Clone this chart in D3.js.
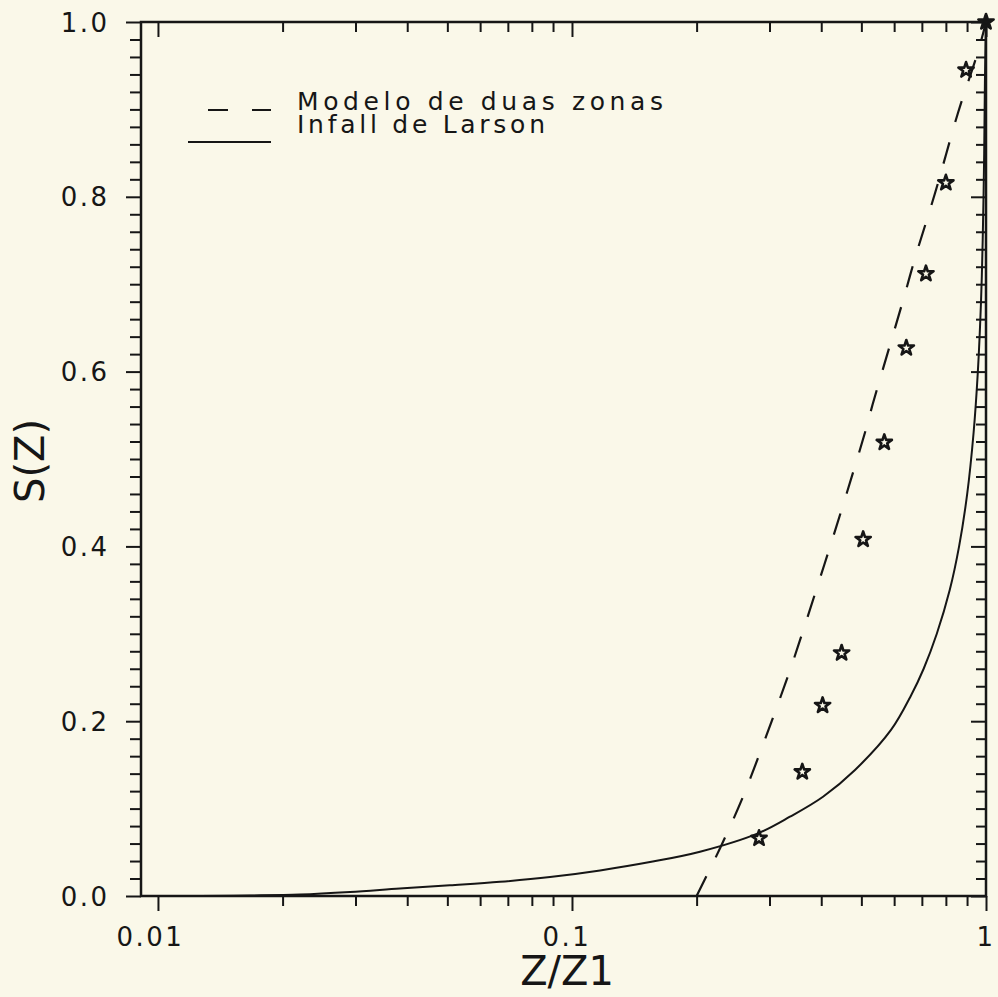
<!DOCTYPE html>
<html><head><meta charset="utf-8">
<script src="https://cdn.jsdelivr.net/npm/d3@7"></script>
<style>html,body{margin:0;padding:0;background:#faf8e9;} svg{display:block}</style>
</head><body><svg id="c" width="998" height="997"></svg>
<script>
// ---- data ----
const larsonZ = [0.0091, 0.0127, 0.0167, 0.0220, 0.0291, 0.0384, 0.0507, 0.0670, 0.0885, 0.1169, 0.1543, 0.2038, 0.2813, 0.3361, 0.4040, 0.4826, 0.5896, 0.6599, 0.7070, 0.7606, 0.8173, 0.8610, 0.9007, 0.9333, 0.9557, 0.9726, 0.9818, 0.9900, 0.9939, 1.0];
const larsonS = [0.0, 0.0001, 0.0006, 0.0016, 0.0045, 0.0085, 0.0122, 0.0162, 0.0217, 0.0293, 0.0388, 0.0507, 0.0717, 0.0907, 0.1136, 0.1442, 0.19, 0.23, 0.26, 0.30, 0.35, 0.40, 0.46, 0.53, 0.60, 0.68, 0.75, 0.85, 0.93, 1.0];
const twoZoneZ = [0.200, 0.228, 0.257, 0.282, 0.332, 0.359, 0.448, 0.515, 0.532, 0.631, 0.674, 0.753, 0.857, 0.958, 1.0];
const twoZoneS = [0.0, 0.055, 0.110, 0.159, 0.251, 0.299, 0.442, 0.537, 0.562, 0.682, 0.73, 0.804, 0.897, 0.967, 1.0];
const starZ = [0.283, 0.360, 0.403, 0.448, 0.505, 0.568, 0.642, 0.716, 0.800, 0.895, 1.0];
const starS = [0.066, 0.142, 0.218, 0.278, 0.408, 0.519, 0.627, 0.712, 0.816, 0.945, 1.0];
const yTickValues = [0, 0.2, 0.4, 0.6, 0.8, 1.0];
const yTickLabels = ["0.0", "0.2", "0.4", "0.6", "0.8", "1.0"];
const xTickValues = [0.01, 0.1, 1];
const xTickLabels = ["0.01", "0.1", "1"];
const legendLabels = ["Modelo de duas zonas", "Infall de Larson"];
const xTitle = "Z/Z1";
const yTitle = "S(Z)";

// ---- drawing ----
const W = 998, H = 997;
const svg = d3.select("#c");
const bg = "#faf8e9", ink = "#161616";
const font = "'DejaVu Sans', 'Liberation Sans', sans-serif";
svg.append("rect").attr("width", W).attr("height", H).attr("fill", bg);

const x = d3.scaleLog().domain([0.0091, 1]).range([141, 986]);
const y = d3.scaleLinear().domain([0, 1]).range([896, 22]);

const smoothLine = d3.line().x(d => x(d[0])).y(d => y(d[1])).curve(d3.curveCatmullRom.alpha(0.5));

svg.append("path").datum(larsonZ.map((z, i) => [z, larsonS[i]]))
  .attr("d", smoothLine).attr("fill", "none").attr("stroke", ink).attr("stroke-width", 2);

svg.append("path").datum(twoZoneZ.map((z, i) => [z, twoZoneS[i]]))
  .attr("d", smoothLine).attr("fill", "none").attr("stroke", ink).attr("stroke-width", 2.2)
  .attr("stroke-dasharray", "22,21");

// axes ticks
const xMinor = x.ticks().filter(v => !xTickValues.some(t => Math.abs(t - v) < 1e-9));
const yMinor = d3.range(0, 51).map(i => i / 50).filter(v => Math.abs(v * 5 - Math.round(v * 5)) > 1e-6);

function addAxis(axis, tx, ty, ticks, size) {
  svg.append("g").attr("transform", `translate(${tx},${ty})`)
    .call(axis.tickValues(ticks).tickSizeInner(size).tickSizeOuter(0).tickFormat(""))
    .call(g => g.select(".domain").remove())
    .selectAll("line").attr("stroke", ink).attr("stroke-width", 2);
}
addAxis(d3.axisBottom(x), 0, 896, xTickValues, 15);
addAxis(d3.axisBottom(x), 0, 896, xMinor, 10);
addAxis(d3.axisTop(x), 0, 22, xTickValues, -15);
addAxis(d3.axisTop(x), 0, 22, xMinor, -10);
addAxis(d3.axisLeft(y), 141, 0, yTickValues, 15);
addAxis(d3.axisLeft(y), 141, 0, yMinor, 11);
addAxis(d3.axisRight(y), 986, 0, yTickValues, -15);
addAxis(d3.axisRight(y), 986, 0, yMinor, -10);

svg.append("rect").attr("x", x.range()[0]).attr("y", y.range()[1])
  .attr("width", x.range()[1] - x.range()[0]).attr("height", y.range()[0] - y.range()[1])
  .attr("fill", "none").attr("stroke", ink).attr("stroke-width", 2.5);

// stars
const star = d3.symbol().type(d3.symbolStar).size(72);
svg.append("g").selectAll("path").data(starZ.map((z, i) => [z, starS[i]]))
  .join("path")
  .attr("transform", d => `translate(${x(d[0])},${y(d[1])})`)
  .attr("d", star)
  .attr("fill", d => d[0] >= 1 ? ink : bg)
  .attr("stroke", ink).attr("stroke-width", 2.6).attr("stroke-linejoin", "round");

// tick labels
svg.append("g").selectAll("text").data(yTickValues).join("text")
  .attr("x", 109.5).attr("y", d => y(d) + 9.5)
  .attr("text-anchor", "end").attr("font-family", font).attr("font-size", 26)
  .attr("letter-spacing", 2.5).attr("fill", ink)
  .text((d, i) => yTickLabels[i]);

svg.append("g").selectAll("text").data(xTickValues).join("text")
  .attr("x", (d, i) => x(d) - (xTickLabels[i].length - 1) * 2.5).attr("y", 946)
  .attr("text-anchor", "middle").attr("font-family", font).attr("font-size", 26)
  .attr("letter-spacing", 2.5).attr("fill", ink)
  .text((d, i) => xTickLabels[i]);

// titles
svg.append("text").attr("x", 567).attr("y", 985).attr("text-anchor", "middle")
  .attr("font-family", font).attr("font-size", 40).attr("fill", ink).text(xTitle);
svg.append("text").attr("transform", "translate(44,461) rotate(-90)").attr("text-anchor", "middle")
  .attr("font-family", font).attr("font-size", 40).attr("fill", ink).text(yTitle);

// legend
const lg = svg.append("g");
lg.append("line").attr("x1", 208).attr("x2", 228).attr("y1", 110).attr("y2", 110).attr("stroke", ink).attr("stroke-width", 2);
lg.append("line").attr("x1", 252).attr("x2", 271).attr("y1", 110).attr("y2", 110).attr("stroke", ink).attr("stroke-width", 2);
lg.append("line").attr("x1", 188).attr("x2", 271).attr("y1", 142).attr("y2", 142).attr("stroke", ink).attr("stroke-width", 2);
const legendWidths = [366, 248];
lg.selectAll("text").data(legendLabels).join("text")
  .attr("x", 297).attr("y", (d, i) => 109.5 + i * 23.5)
  .attr("font-family", font).attr("font-size", 25).attr("fill", ink)
  .attr("textLength", (d, i) => legendWidths[i]).attr("lengthAdjust", "spacing")
  .text(d => d);
</script></body></html>
